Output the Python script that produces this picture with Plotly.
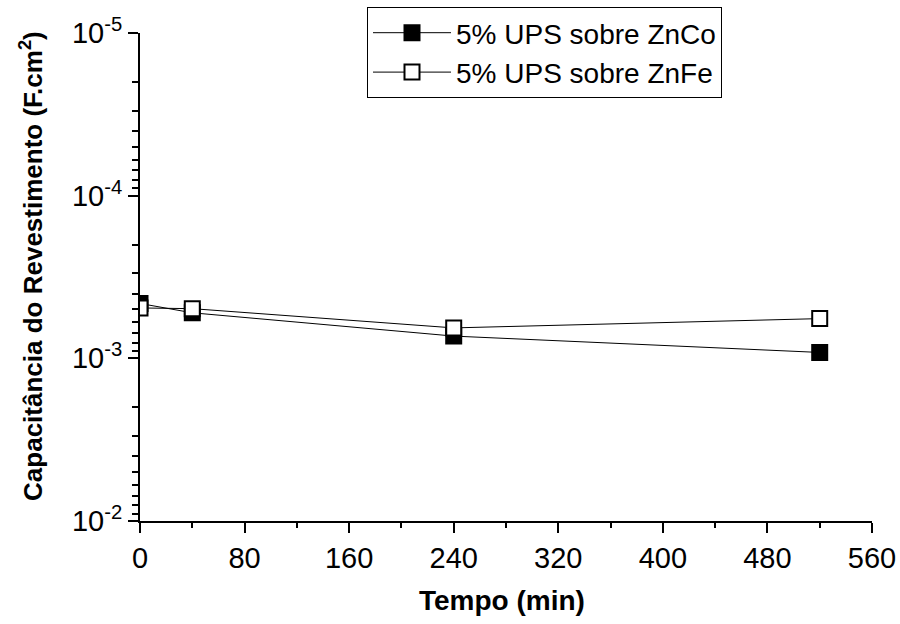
import plotly.graph_objects as go

tempo = [0, 40, 240, 520]
znco = [4.6e-4, 5.25e-4, 7.3e-4, 9.2e-4]
znfe = [4.9e-4, 4.95e-4, 6.5e-4, 5.7e-4]
x_ticks = [0, 80, 160, 240, 320, 400, 480, 560]
y_tickvals = [1e-5, 1e-4, 1e-3, 1e-2]
y_ticktext = ["10<sup>-5</sup>", "10<sup>-4</sup>", "10<sup>-3</sup>", "10<sup>-2</sup>"]

FONT = "Liberation Sans"

fig = go.Figure()
fig.add_trace(go.Scatter(
    x=tempo, y=znco, mode="lines+markers", name="5% UPS sobre ZnCo",
    line=dict(color="black", width=1),
    marker=dict(symbol="square", size=15, color="black", line=dict(color="black", width=2)),
))
fig.add_trace(go.Scatter(
    x=tempo, y=znfe, mode="lines+markers", name="5% UPS sobre ZnFe",
    line=dict(color="black", width=1),
    marker=dict(symbol="square", size=15, color="white", line=dict(color="black", width=2)),
))

fig.update_layout(
    width=900, height=624,
    margin=dict(l=140, r=28, t=33, b=103, autoexpand=False),
    paper_bgcolor="white", plot_bgcolor="white",
    font=dict(family=FONT, color="black"),
    showlegend=True,
    legend=dict(
        xref="container", yref="container",
        x=367 / 900, y=1 - 7 / 624, xanchor="left", yanchor="top",
        bgcolor="white", bordercolor="black", borderwidth=1,
        font=dict(size=28, family=FONT, color="black"),
        itemwidth=78, tracegroupgap=0,
    ),
    xaxis=dict(
        range=[0, 560], tickvals=x_ticks, ticktext=[str(v) for v in x_ticks],
        showline=True, linecolor="black", linewidth=2, showgrid=False, zeroline=False,
        ticks="outside", ticklen=10, tickwidth=2, tickcolor="black", automargin=False,
        tickfont=dict(size=29, family=FONT, color="black"),
        minor=dict(ticks="outside", ticklen=5, tickwidth=1.5, tickcolor="black", dtick=40, showgrid=False),
    ),
    yaxis=dict(
        type="log", range=[-2, -5],
        tickvals=y_tickvals, ticktext=y_ticktext,
        showline=True, linecolor="black", linewidth=2, showgrid=False, zeroline=False,
        ticks="outside", ticklen=10, tickwidth=2, tickcolor="black", automargin=False,
        tickfont=dict(size=29, family=FONT, color="black"),
        minor=dict(ticks="outside", ticklen=6, tickwidth=1.5, tickcolor="black", dtick="D1", showgrid=False),
    ),
    annotations=[
        dict(text="<b>Capacitância do Revestimento (F.cm<sup>2</sup>)</b>", textangle=-90,
             xref="paper", yref="paper", x=-0.148, y=0.522, xanchor="center", yanchor="middle",
             showarrow=False, font=dict(size=26, family=FONT, color="black")),
        dict(text="<b>Tempo (min)</b>",
             xref="paper", yref="paper", x=0.495, y=-0.162, xanchor="center", yanchor="middle",
             showarrow=False, font=dict(size=28, family=FONT, color="black")),
    ],
)

fig.write_html("out.html", config={"displayModeBar": False},
               post_script="document.body.style.margin='0';document.body.style.padding='0';")
